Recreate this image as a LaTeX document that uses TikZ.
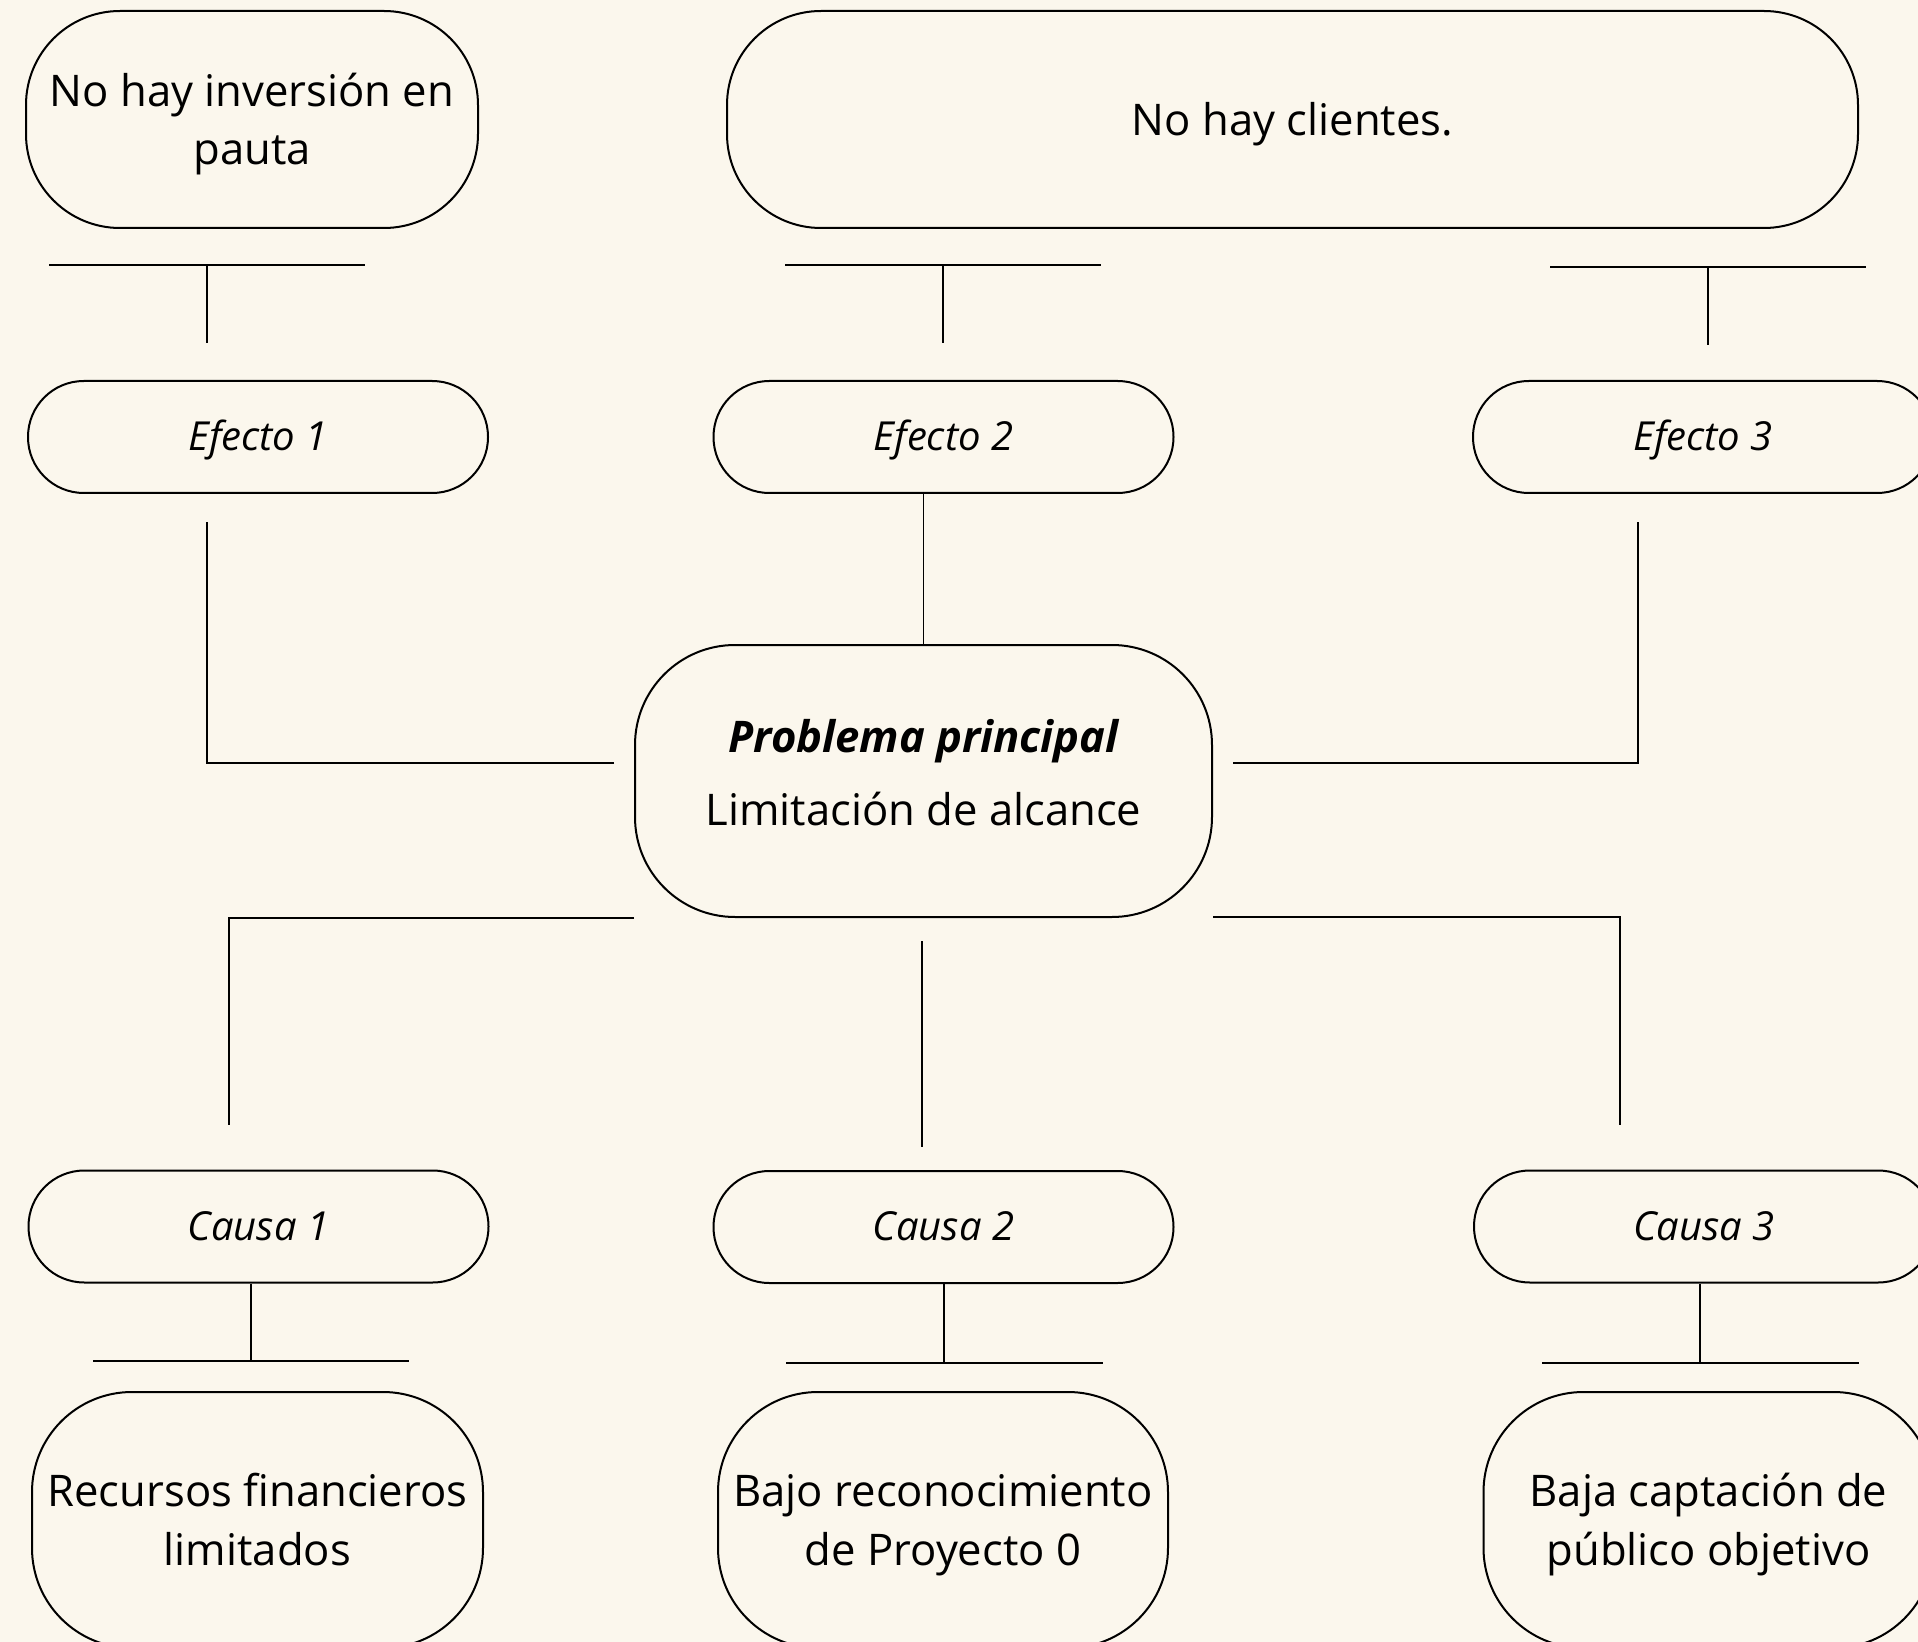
\documentclass[tikz,border=0pt]{standalone}
\usepackage{fontspec}
\setmainfont{Open Sans}
\usetikzlibrary{calc}
\definecolor{paper}{RGB}{251,247,237}
% invisible rule that sets the height of a first text line
\newcommand\headroom[1]{\rule{0pt}{#1}}
\begin{document}
\begin{tikzpicture}[x=0.5pt,y=-0.5pt,
  outline/.style={draw=black, line width=1pt, align=center, inner sep=0pt},
  bigbox/.style={outline, minimum height=108.5pt, rounded corners=47pt,
    font=\fontsize{21.8}{29.4}\selectfont},
  tallbox/.style={outline, minimum height=128pt, rounded corners=50pt,
    font=\fontsize{21.8}{29.4}\selectfont},
  pill/.style={outline, minimum width=230pt, minimum height=56pt, rounded corners=27.9pt,
    font=\fontsize{20}{24}\selectfont\itshape},
  bar/.style={line width=1pt},
  stem/.style={line width=0.8pt}]
\clip (0,0) rectangle (1918,1642);
\fill[paper] (0,0) rectangle (1918,1642);

% consequences
\node[bigbox, minimum width=226pt] (topA) at (252,119.5) {\headroom{24.8pt}No hay inversión en\\pauta\strut};
\node[bigbox, minimum width=565.5pt] (topB) at (1292.5,119.5) {\headroom{24.8pt}No hay clientes.\strut};

% effects
\node[pill] (ef1) at (258,437) {\headroom{21pt}Efecto 1\strut};
\node[pill] (ef2) at (943.5,437) {\headroom{21pt}Efecto 2\strut};
\node[pill] (ef3) at (1703,437) {\headroom{21pt}Efecto 3\strut};

% central problem: frame, then its two lines of text
\node[outline, minimum width=288.5pt, minimum height=136pt, rounded corners=50pt] (prob) at (923.5,781) {};
\node[align=center, inner sep=0pt, font=\fontsize{21.8}{29.4}\selectfont] (probtext)
  at ($(prob.center)+(0,-3.7)$)
  {\strut{\bfseries\itshape Problema principal}\\[7.3pt]Limitación de alcance\strut};

% causes
\node[pill] (ca1) at (258.5,1226.5) {\headroom{21pt}Causa 1\strut};
\node[pill] (ca2) at (943.5,1227) {\headroom{21pt}Causa 2\strut};
\node[pill] (ca3) at (1704,1226.5) {\headroom{21pt}Causa 3\strut};

% root causes
\node[tallbox, minimum width=225.5pt] (rt1) at (257.5,1520) {\headroom{24.8pt}Recursos financieros\\limitados\strut};
\node[tallbox, minimum width=225pt] (rt2) at (943,1520) {\headroom{24.8pt}Bajo reconocimiento\\de Proyecto 0\strut};
\node[tallbox, minimum width=225pt] (rt3) at (1708.5,1520) {\headroom{24.8pt}Baja captación de\\público objetivo\strut};

% T-joints between consequences and effects
\coordinate (tA) at (207,343);
\coordinate (tB) at (943,343);
\coordinate (tC) at (1708,345);
\draw[bar] (49,265) coordinate (tAl) -- (365,265) coordinate (tAr);
\draw[bar] (785,265) coordinate (tBl) -- (1101,265) coordinate (tBr);
\draw[bar] (1550,267) coordinate (tCl) -- (1866,267) coordinate (tCr);
\draw[stem] (tA |- tAl) -- (tA);
\draw[stem] (tB |- tBl) -- (tB);
\draw[stem] (tC |- tCl) -- (tC);

% effects to the central problem
\coordinate (eL) at (207,522);
\coordinate (eLend) at (614,763);
\coordinate (eR) at (1638,522);
\coordinate (eRend) at (1233,763);
\draw[stem] (eLend) -| (eL);
\draw[stem] (eRend) -| (eR);
\draw[stem] (prob.north) -- (prob.north |- ef2.south);

% central problem to causes
\coordinate (cL) at (229,1125);
\coordinate (cLstart) at (634,918);
\coordinate (cM) at (922,1147);
\coordinate (cMstart) at (922,941);
\coordinate (cR) at (1620,1125);
\coordinate (cRstart) at (1213,917);
\draw[stem] (cLstart) -| (cL);
\draw[stem] (cMstart) -- (cM);
\draw[stem] (cRstart) -| (cR);

% T-joints between causes and root causes
\coordinate (b1) at (251,1361);
\coordinate (b2) at (944,1363);
\coordinate (b3) at (1700,1363);
\draw[stem] (b1 |- ca1.south) -- (b1);
\draw[stem] (b2 |- ca2.south) -- (b2);
\draw[stem] (b3 |- ca3.south) -- (b3);
\draw[bar] (93,1361) -- (409,1361);
\draw[bar] (786,1363) -- (1103,1363);
\draw[bar] (1542,1363) -- (1859,1363);
\end{tikzpicture}
\end{document}
